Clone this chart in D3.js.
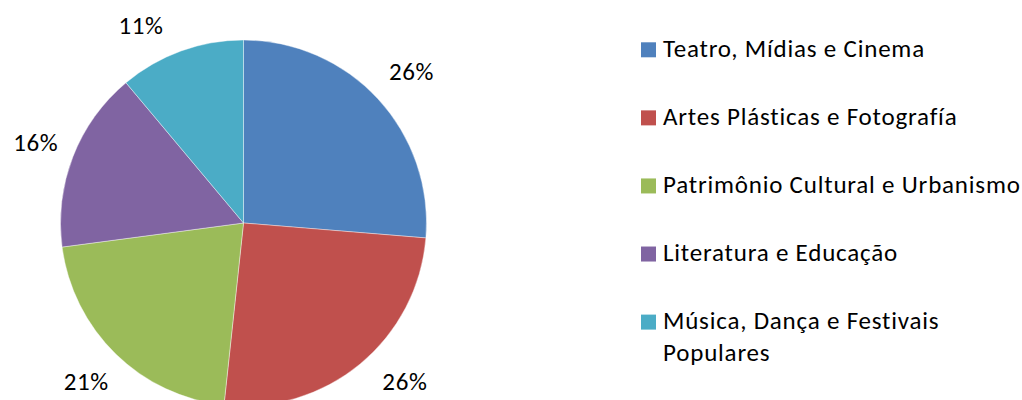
<!DOCTYPE html>
<html><head><meta charset="utf-8">
<script src="https://cdn.jsdelivr.net/npm/d3@7"></script>
<style>body{margin:0;background:#fff;}svg{display:block;}</style>
</head><body>
<script>
const categories = ["Teatro, Mídias e Cinema","Artes Plásticas e Fotografía","Patrimônio Cultural e Urbanismo","Literatura e Educação","Música, Dança e Festivais Populares"];
const values = [26.3, 25.4, 21.2, 16.0, 11.1];
const labels = ["26%","26%","21%","16%","11%"];
const colors = ["#4F81BD","#C0504D","#9BBB59","#8064A2","#4BACC6"];
const legendLines = [["Teatro, Mídias e Cinema"],["Artes Plásticas e Fotografía"],["Patrimônio Cultural e Urbanismo"],["Literatura e Educação"],["Música, Dança e Festivais","Populares"]];

const W=1022,H=400;
const svg=d3.select("body").append("svg").attr("width",W).attr("height",H);
const font="Carlito, Calibri, Lato, sans-serif";
const cx=243.5, cy=223, R=183;
const pie=d3.pie().sort(null).value(d=>d)(values);
const arc=d3.arc().innerRadius(0).outerRadius(R);
const g=svg.append("g").attr("transform",`translate(${cx},${cy})`);
g.selectAll("path").data(pie).join("path").attr("d",arc).attr("fill",(d,i)=>colors[i]).attr("stroke","#fff").attr("stroke-width",0.4);

// label placement: mid-angle at fixed radius, slid along the circle to stay inside chart area
const LR=223, yMin=25-cy, yMax=381-cy;
function labelPos(d){
  let a=(d.startAngle+d.endAngle)/2;
  let x=LR*Math.sin(a), y=-LR*Math.cos(a);
  if(y<yMin){ y=yMin; x=Math.sign(x||1)*Math.sqrt(LR*LR-y*y); }
  if(y>yMax){ y=yMax; x=Math.sign(x||1)*Math.sqrt(LR*LR-y*y); }
  return [x+(x>0?4:0),y];
}
g.selectAll("text").data(pie).join("text")
 .attr("x",d=>labelPos(d)[0]).attr("y",d=>labelPos(d)[1])
 .attr("text-anchor","middle").attr("dominant-baseline","central")
 .attr("font-family",font).attr("font-size",25).attr("letter-spacing",0.6).attr("fill","#000")
 .text((d,i)=>labels[i]);

const ly=d3.scalePoint().domain(d3.range(categories.length)).range([42.3,314.6]);
const lg=svg.append("g");
categories.forEach((c,i)=>{
  lg.append("rect").attr("x",641).attr("y",ly(i)).attr("width",15).attr("height",15).attr("fill",colors[i]);
  const t=lg.append("text").attr("x",663).attr("y",ly(i)+14.5).attr("font-family",font).attr("font-size",25).attr("letter-spacing",0.8).attr("fill","#000");
  legendLines[i].forEach((l,j)=>t.append("tspan").attr("x",663).attr("dy",j?32:0).text(l));
});
</script>
</body></html>
